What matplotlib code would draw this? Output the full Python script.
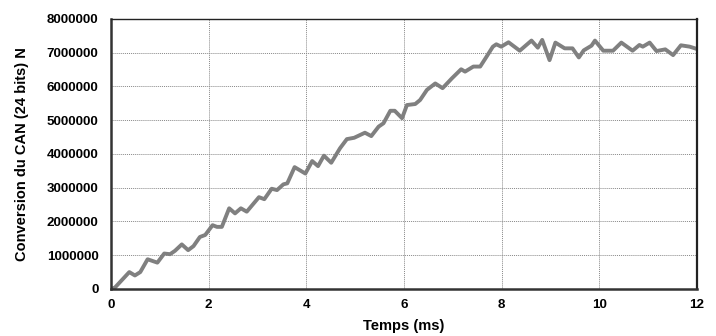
import numpy as np
import matplotlib.pyplot as plt

plt.rcParams['font.family'] = ['Liberation Sans', 'DejaVu Sans']
plt.rcParams['font.weight'] = 'bold'

# temps (ms) et conversion N
t = [0.0, 0.08, 0.375, 0.49, 0.6, 0.75, 0.95, 1.09, 1.21, 1.31, 1.45, 1.58, 1.69, 1.82, 1.93,
     2.08, 2.17, 2.27, 2.42, 2.54, 2.66, 2.78, 3.03, 3.14, 3.29, 3.40, 3.53, 3.61, 3.76, 3.98,
     4.12, 4.24, 4.36, 4.51, 4.69, 4.83, 4.98, 5.2, 5.33, 5.48, 5.58, 5.72, 5.81, 5.96, 6.06,
     6.23, 6.33, 6.47, 6.64, 6.79, 6.98, 7.17, 7.25, 7.42, 7.56, 7.68, 7.82, 7.89, 7.99, 8.14,
     8.37, 8.61, 8.74, 8.83, 8.98, 9.10, 9.29, 9.45, 9.58, 9.68, 9.84, 9.91, 10.08, 10.28, 10.45,
     10.68, 10.82, 10.89, 11.03, 11.17, 11.35, 11.51, 11.67, 11.85, 12.0]
N = [0, 40000, 500000, 400000, 500000, 880000, 780000, 1050000, 1030000, 1130000, 1320000, 1150000,
     1270000, 1540000, 1600000, 1890000, 1840000, 1840000, 2390000, 2240000, 2390000, 2290000,
     2720000, 2660000, 2970000, 2930000, 3100000, 3130000, 3610000, 3420000, 3790000, 3640000,
     3950000, 3740000, 4170000, 4440000, 4480000, 4630000, 4530000, 4810000, 4910000, 5280000,
     5280000, 5060000, 5450000, 5480000, 5600000, 5900000, 6090000, 5950000, 6240000, 6510000,
     6440000, 6590000, 6590000, 6860000, 7180000, 7250000, 7180000, 7310000, 7060000, 7360000,
     7150000, 7380000, 6780000, 7300000, 7130000, 7130000, 6860000, 7070000, 7210000, 7360000,
     7060000, 7060000, 7300000, 7060000, 7230000, 7180000, 7300000, 7050000, 7100000, 6930000,
     7220000, 7180000, 7110000]

fig = plt.figure(figsize=(7.16, 3.36), dpi=100)
ax = fig.add_axes([0.155, 0.14, 0.8185, 0.8035])

ax.plot(t, N, color='#808080', linewidth=2.8, solid_joinstyle='round', solid_capstyle='round')

ax.set_xlim(0, 12)
ax.set_ylim(0, 8000000)
ax.set_xticks(np.arange(0, 13, 2))
ax.set_yticks(np.arange(0, 8000001, 1000000))
ax.ticklabel_format(style='plain', axis='y')
ax.grid(True, color='#888888', linestyle=(0, (1, 1)), linewidth=0.7)
ax.tick_params(length=0, labelsize=9.6)
ax.tick_params(axis='y', pad=9)
ax.tick_params(axis='x', pad=7)
for lab in ax.get_xticklabels() + ax.get_yticklabels():
    lab.set_fontweight('bold')

for s in ['left', 'bottom']:
    ax.spines[s].set_linewidth(1.8)
    ax.spines[s].set_color('#333333')
ax.spines['right'].set_linewidth(1.6)
ax.spines['right'].set_color('#222222')
ax.spines['top'].set_linewidth(1.0)
ax.spines['top'].set_color('#222222')

ax.set_xlabel('Temps (ms)', fontsize=10.5, fontweight='bold', labelpad=6)
ax.set_ylabel('Conversion du CAN (24 bits) N', fontsize=10.5, fontweight='bold', labelpad=13)

plt.savefig('out.png', dpi=100)
